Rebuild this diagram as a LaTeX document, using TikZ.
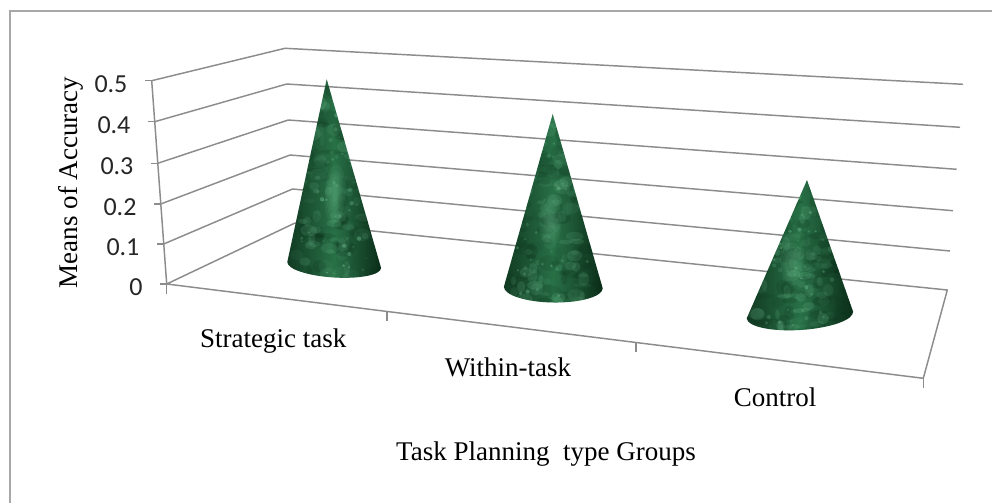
\documentclass[tikz,border=0pt]{standalone}
\usepackage{fontspec}
\setmainfont{Liberation Serif}
\newfontfamily\ticksfont{Carlito}
\usetikzlibrary{calc}

\definecolor{gridgray}{HTML}{8C8C8C}
\definecolor{framegray}{HTML}{A8A8A8}
\definecolor{cmid}{HTML}{287046}
\definecolor{cedge}{HTML}{113A22}
\definecolor{clight}{HTML}{8EE3B4}
\definecolor{cshadow}{HTML}{0B2D19}

% Marbled cone: #1 apex coordinate, #2,#3 base centre, #4 base tilt,
% #5,#6 base radii, #7 height, #8 random seed
\newcommand\drawcone[8]{%
  \begin{scope}[shift={(#2,#3)}, rotate=#4]
    \path[left color=cedge, right color=cshadow, middle color=cmid]
      (#1) -- (-#5,0) arc[start angle=180, end angle=0, x radius=#5, y radius=#6] -- cycle;
    \begin{scope}
      \clip (#1) -- (-#5,0) arc[start angle=180, end angle=0, x radius=#5, y radius=#6] -- cycle;
      \pgfmathsetseed{#8}
      % dark veining
      \foreach \i in {1,...,110} {
        \pgfmathsetmacro\px{rand*#5}
        \pgfmathsetmacro\py{#6-rnd*(#7+#6)}
        \pgfmathsetmacro\ra{3+9*rnd}
        \pgfmathsetmacro\rb{2+6*rnd}
        \pgfmathsetmacro\op{0.06+0.16*rnd}
        \fill[cshadow, opacity=\op] (\px,\py) ellipse[x radius=\ra, y radius=\rb];
      }
      % pale clouds
      \foreach \i in {1,...,90} {
        \pgfmathsetmacro\px{rand*#5*0.75-0.1*#5}
        \pgfmathsetmacro\py{#6-rnd*(#7+#6)}
        \pgfmathsetmacro\ra{2+7*rnd}
        \pgfmathsetmacro\rb{2+5*rnd}
        \pgfmathsetmacro\op{0.04+0.10*rnd}
        \fill[clight, opacity=\op] (\px,\py) ellipse[x radius=\ra, y radius=\rb];
      }
      % fine pale flecks
      \foreach \i in {1,...,60} {
        \pgfmathsetmacro\px{rand*#5*0.8-0.1*#5}
        \pgfmathsetmacro\py{#6-rnd*(#7+#6)}
        \pgfmathsetmacro\ra{0.8+1.5*rnd}
        \pgfmathsetmacro\op{0.10+0.20*rnd}
        \fill[clight, opacity=\op] (\px,\py) circle[radius=\ra];
      }
      % soft glow on the lit side
      \foreach \s in {1.0,0.8,0.6,0.4,0.25} {
        \fill[clight, opacity=0.07] (-0.08*#5,-0.38*#7) ellipse[x radius=0.22*#5*\s, y radius=0.16*#7*\s];
      }
    \end{scope}
  \end{scope}}

\tikzset{
  gridline/.style={draw=gridgray, line width=1.1pt, line join=round},
  ticklbl/.style={font=\ticksfont\fontsize{19.5}{23}\selectfont, text=black!85, inner sep=0pt, anchor=east},
  catlbl/.style={font=\fontsize{20.25}{24}\selectfont, inner sep=0pt, anchor=base},
}

\begin{document}
\begin{tikzpicture}[x=0.75pt, y=-0.75pt]
\useasboundingbox (0,0) rectangle (992,503);

% outer chart frame
\coordinate (fbl) at (10,503);
\coordinate (ftl) at (10,11);
\coordinate (ftr) at (992,11);
\draw[framegray, line width=0.9pt] (fbl) -- (ftl) -- (ftr);

% value axis (front edge of the side wall)
\coordinate (F0) at (166.7,284);
\coordinate (F1) at (163.7,244);
\coordinate (F2) at (160.7,204);
\coordinate (F3) at (157.7,163.3);
\coordinate (F4) at (154.7,121.7);
\coordinate (F5) at (151.7,80.7);
% back-left corner of the walls
\coordinate (B0) at (295,223);
\coordinate (B1) at (292.5,189);
\coordinate (B2) at (290,155);
\coordinate (B3) at (288.3,120);
\coordinate (B4) at (286.7,84);
\coordinate (B5) at (285,48.3);
% right end of the back wall
\coordinate (R0) at (947.3,290);
\coordinate (R1) at (950,251);
\coordinate (R2) at (953,210.7);
\coordinate (R3) at (956.7,169.3);
\coordinate (R4) at (960,127.3);
\coordinate (R5) at (963,84.3);
% front-right corner of the floor
\coordinate (FR) at (923.3,378.3);

% gridlines on side and back walls
\foreach \k in {1,...,5} {
  \draw[gridline] (F\k) -- (B\k) -- (R\k);
}
% floor
\draw[gridline] (F0) -- (B0) -- (R0) -- (FR) -- cycle;
% value axis and its ticks
\draw[gridline] (F0) -- (F5);
\foreach \k in {0,...,5} {
  \draw[gridline] (F\k) -- ++(-7,0);
}
% category ticks along the front floor edge
\coordinate (T1) at ($(F0)!0.291!(FR)$);
\coordinate (T2) at ($(F0)!0.620!(FR)$);
\foreach \p in {F0,T1,T2,FR} {
  \draw[gridline] (\p) -- ++(0,10);
}

% value labels
\node[ticklbl] (v0) at ($(F0)+(-24,3)$) {0};
\node[ticklbl] (v1) at ($(F1)+(-24,3)$) {0.1};
\node[ticklbl] (v2) at ($(F2)+(-24,3)$) {0.2};
\node[ticklbl] (v3) at ($(F3)+(-24,3)$) {0.3};
\node[ticklbl] (v4) at ($(F4)+(-24,3)$) {0.4};
\node[ticklbl] (v5) at ($(F5)+(-24,3)$) {0.5};

% cones
\coordinate (apexA) at (326.7,79.3);
\coordinate (apexB) at (552.7,114);
\coordinate (apexC) at (807,180);
\drawcone{apexA}{334.2}{265}{-3.7}{47}{12.5}{186}{11}
\drawcone{apexB}{553.3}{287.5}{-0.9}{49.4}{15}{174}{23}
\drawcone{apexC}{799.9}{315}{3.6}{53.3}{15}{136}{37}

% category labels and axis titles
\node[catlbl] (catA) at (273.3,347.5) {Strategic task};
\node[catlbl] (catB) at (508,376) {Within-task};
\node[catlbl] (catC) at (775,406.5) {Control};
\node[catlbl] (xtitle) at (546,460.5) {Task Planning\ \ type Groups};
\node[catlbl, rotate=90] (ytitle) at (77.3,182.5) {Means of Accuracy};
\end{tikzpicture}
\end{document}
